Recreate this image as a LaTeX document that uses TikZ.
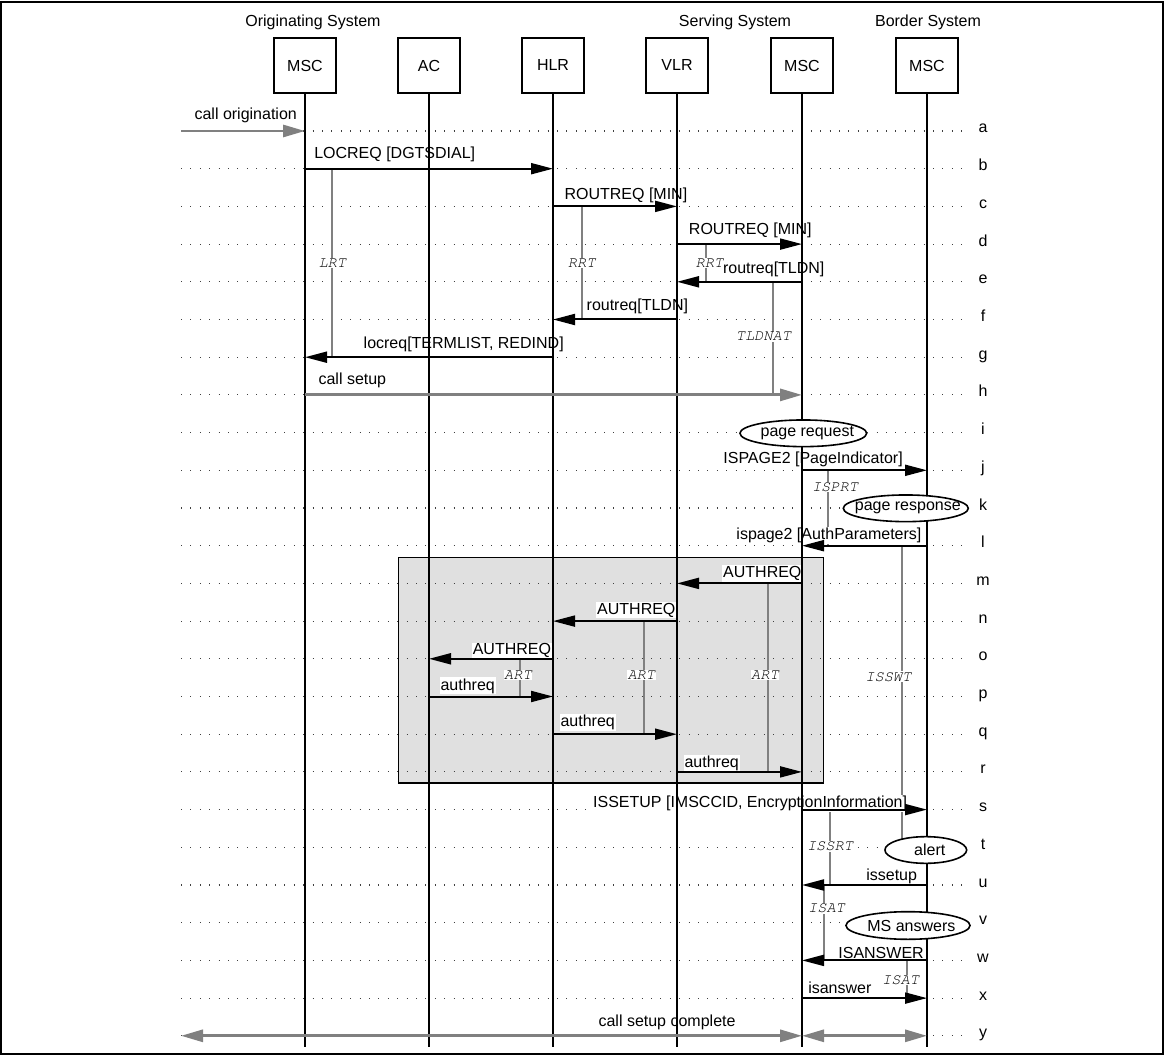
\documentclass[tikz,border=0pt]{standalone}
\usepackage[T1]{fontenc}
\usepackage{fontspec}
\setmainfont{Liberation Sans}
\newcommand\timerfont{\fontencoding{T1}\fontfamily{pcr}\fontshape{sl}\selectfont}
\usetikzlibrary{arrows.meta,shapes.geometric}
\definecolor{boxgray}{RGB}{224,224,224}
\definecolor{midgray}{RGB}{128,128,128}

\begin{document}
\begin{tikzpicture}[x=0.75pt, y=-0.75pt, font=\fontsize{12}{14}\selectfont]

\tikzset{
  entity/.style={draw, line width=1.5pt, minimum width=46.5pt, minimum height=41.25pt, inner sep=0pt},
  lifeline/.style={line width=1.5pt},
  msg/.style={line width=1.5pt, -{Triangle[length=16.5pt,width=8.25pt]}},
  env/.style={midgray, line width=2.2pt, -{Triangle[length=16.5pt,width=9pt]}},
  envboth/.style={midgray, line width=2.2pt, {Triangle[length=16.5pt,width=9pt]}-{Triangle[length=16.5pt,width=9pt]}},
  msglabel/.style={fill=white, inner sep=0.75pt},
  timer/.style={draw=midgray, line width=1.5pt},
  timerlabel/.style={fill=white, inner sep=0.5pt, font=\fontsize{11.5}{13}\timerfont, text=black},
  event/.style={draw, ellipse, fill=white, line width=1.2pt, inner sep=0pt},
  rowline/.style={black!75, line width=0.8pt, dash pattern=on 0.8pt off 6.25pt},
  rowlabel/.style={anchor=base}
}

\useasboundingbox (0,0) rectangle (1164,1055);
\draw[line width=1.5pt] (1,2) rectangle (1162.5,1053.5);

% shaded authentication block
\draw[line width=1.2pt, fill=boxgray] (398.3,557.3) rectangle (823.3,782.7);

% rows a..y
\foreach \r [count=\i from 0] in {a,b,c,d,e,f,g,h,i,j,k,l,m,n,o,p,q,r,s,t,u,v,w,x,y} {
  \coordinate (row\r) at (0,{131+37.7*\i});
  \draw[rowline] (181,{131+37.7*\i}) -- (965,{131+37.7*\i});
  \node[rowlabel] (lbl\r) at (983,{133+37.7*\i}) {\r};
}

% systems and entities
\node (orig) at (313,22) {Originating System};
\node (serv) at (735,22) {Serving System};
\node (bord) at (928,22) {Border System};

\node[entity] (omsc) at (305,65.5) {MSC};
\node[entity] (ac) at (429,65.5) {AC};
\node[entity] (hlr) at (553,65.5) {HLR};
\node[entity] (vlr) at (677,65.5) {VLR};
\node[entity] (smsc) at (802,65.5) {MSC};
\node[entity] (bmsc) at (927,65.5) {MSC};

\coordinate (bottom) at (0,1047);
\coordinate (west) at (181,0);

% timers
\coordinate (tLRT) at (332.3,0);
\coordinate (tRRTa) at (581.7,0);
\coordinate (tRRTb) at (705.7,0);
\coordinate (tTLDNAT) at (773.3,0);
\coordinate (tISPRT) at (827.7,0);
\coordinate (tISSWT) at (901.7,0);
\coordinate (tARTa) at (520,0);
\coordinate (tARTb) at (644,0);
\coordinate (tARTc) at (768.3,0);
\coordinate (tISSRT) at (830,0);
\coordinate (tISATa) at (824,0);
\coordinate (tISATb) at (907.3,0);

\draw[timer] (tLRT |- rowb) -- (tLRT |- rowg) node[timerlabel, pos=.5] (lrt) {LRT};
\draw[timer] (tRRTa |- rowc) -- (tRRTa |- rowf) node[timerlabel, pos=.5] (rrta) {RRT};
\draw[timer] (tRRTb |- rowd) -- (tRRTb |- rowe) node[timerlabel, pos=.5, xshift=2.8pt] (rrtb) {RRT};
\draw[timer] (tTLDNAT |- rowe) -- (tTLDNAT |- rowh) node[timerlabel, pos=.485, xshift=-7.4pt] (tldnat) {TLDNAT};
\draw[timer] (tISPRT |- rowj) -- (tISPRT |- rowl) node[timerlabel, pos=.22, xshift=5.5pt] (isprt) {ISPRT};
\draw[timer] (tISSWT |- rowl) -- (tISSWT |- rowt) node[timerlabel, pos=.434, xshift=-10pt] (isswt) {ISSWT};
\draw[timer] (tARTa |- rowo) -- (tARTa |- rowp) node[timerlabel, pos=.43, xshift=-1.5pt] (arta) {ART};
\draw[timer] (tARTb |- rown) -- (tARTb |- rowq) node[timerlabel, pos=.478, xshift=-2pt] (artb) {ART};
\draw[timer] (tARTc |- rowm) -- (tARTc |- rowr) node[timerlabel, pos=.486, xshift=-2.5pt] (artc) {ART};
\draw[timer] (tISSRT |- rows) -- (tISSRT |- rowu) node[timerlabel, pos=.49] (issrt) {ISSRT};
\draw[timer] (tISATa |- rowu) -- (tISATa |- roww) node[timerlabel, pos=.31, xshift=1.9pt] (isata) {ISAT};
\draw[timer] (tISATb |- roww) -- (tISATb |- rowx) node[timerlabel, pos=.52, xshift=-5pt] (isatb) {ISAT};

% message labels
\node[msglabel, anchor=base west] (la) at (193.3,119.8) {call origination};
\node[msglabel, anchor=base west] (lb) at (313,158.2) {LOCREQ [DGTSDIAL]};
\node[msglabel, anchor=base west] (lc) at (563.3,199.5) {ROUTREQ [MIN]};
\node[msglabel, anchor=base west] (ld) at (687.7,234.8) {ROUTREQ [MIN]};
\node[msglabel, anchor=base east] (le) at (825.7,273.2) {routreq[TLDN]};
\node[msglabel, anchor=base east] (lf) at (689.3,311) {routreq[TLDN]};
\node[msglabel, anchor=base east] (lg) at (565,348.2) {locreq[TERMLIST, REDIND]};
\node[msglabel, anchor=base west] (lh) at (317.3,384.8) {call setup};
\node[msglabel, anchor=base east] (lj) at (904,463.2) {ISPAGE2 [PageIndicator]};
\node[msglabel, anchor=base east] (ll) at (922.7,539.8) {ispage2 [AuthParameters]};
\node[msglabel, anchor=base east] (lm) at (802.7,577.5) {AUTHREQ};
\node[msglabel, anchor=base east] (ln) at (676.7,614.2) {AUTHREQ};
\node[msglabel, anchor=base east] (lo) at (552.3,654.8) {AUTHREQ};
\node[msglabel, anchor=base west] (lp) at (439.3,690) {authreq};
\node[msglabel, anchor=base west] (lq) at (559.3,726.5) {authreq};
\node[msglabel, anchor=base west] (lr) at (683.3,767.4) {authreq};
\node[msglabel, anchor=base east] (ls) at (908.3,807.5) {ISSETUP [IMSCCID, EncryptionInformation]};
\node[msglabel, anchor=base east] (lu) at (918.3,880.5) {issetup};
\node[msglabel, anchor=base east] (lw) at (925,958) {ISANSWER};
\node[msglabel, anchor=base west] (lx) at (807,993) {isanswer};
\node[msglabel, anchor=base west] (ly) at (597.3,1026.5) {call setup complete};

% lifelines
\draw[lifeline] (omsc.south) -- (omsc |- bottom);
\draw[lifeline] (ac.south) -- (ac |- bottom);
\draw[lifeline] (hlr.south) -- (hlr |- bottom);
\draw[lifeline] (vlr.south) -- (vlr |- bottom);
\draw[lifeline] (smsc.south) -- (smsc |- bottom);
\draw[lifeline] (bmsc.south) -- (bmsc |- bottom);

% messages
\draw[env] (west |- rowa) -- (omsc |- rowa);
\draw[msg] (omsc |- rowb) -- (hlr |- rowb);
\draw[msg] (hlr |- rowc) -- (vlr |- rowc);
\draw[msg] (vlr |- rowd) -- (smsc |- rowd);
\draw[msg] (smsc |- rowe) -- (vlr |- rowe);
\draw[msg] (vlr |- rowf) -- (hlr |- rowf);
\draw[msg] (hlr |- rowg) -- (omsc |- rowg);
\draw[env] (omsc |- rowh) -- (smsc |- rowh);
\draw[msg] (smsc |- rowj) -- (bmsc |- rowj);
\draw[msg] (bmsc |- rowl) -- (smsc |- rowl);
\draw[msg] (smsc |- rowm) -- (vlr |- rowm);
\draw[msg] (vlr |- rown) -- (hlr |- rown);
\draw[msg] (hlr |- rowo) -- (ac |- rowo);
\draw[msg] (ac |- rowp) -- (hlr |- rowp);
\draw[msg] (hlr |- rowq) -- (vlr |- rowq);
\draw[msg] (vlr |- rowr) -- (smsc |- rowr);
\draw[msg] (smsc |- rows) -- (bmsc |- rows);
\draw[msg] (bmsc |- rowu) -- (smsc |- rowu);
\draw[msg] (bmsc |- roww) -- (smsc |- roww);
\draw[msg] (smsc |- rowx) -- (bmsc |- rowx);
\draw[envboth] (west |- rowy) -- (smsc |- rowy);
\draw[envboth] (smsc |- rowy) -- (bmsc |- rowy);

% local actions
\node[event, minimum width=95pt, minimum height=20pt, label={[xshift=3pt]center:page request}] (preq) at (803.3,433.3) {};
\node[event, minimum width=93.75pt, minimum height=20pt, label={[xshift=1.5pt]center:page response}] (presp) at (905.8,508.3) {};
\node[event, minimum width=61.3pt, minimum height=20pt, label={[xshift=3pt]center:alert}] (alert) at (925.8,850) {};
\node[event, minimum width=93pt, minimum height=20.7pt, label={[xshift=2.5pt]center:MS answers}] (answ) at (908,925.5) {};

\end{tikzpicture}
\end{document}
